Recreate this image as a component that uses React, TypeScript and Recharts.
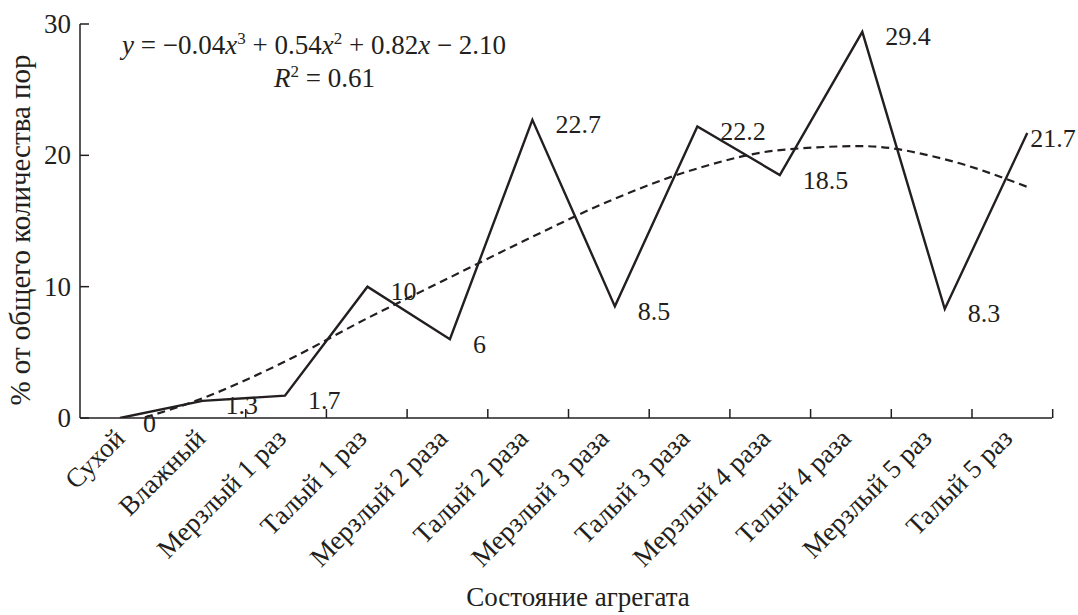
import React from 'react';
import { LineChart, Line, XAxis, YAxis, LabelList } from 'recharts';

const categories = [
  'Сухой',
  'Влажный',
  'Мерзлый 1 раз',
  'Талый 1 раз',
  'Мерзлый 2 раза',
  'Талый 2 раза',
  'Мерзлый 3 раза',
  'Талый 3 раза',
  'Мерзлый 4 раза',
  'Талый 4 раза',
  'Мерзлый 5 раз',
  'Талый 5 раз',
];
const poreShare = [0, 1.3, 1.7, 10, 6, 22.7, 8.5, 22.2, 18.5, 29.4, 8.3, 21.7];
const valueLabels = ['0', '1.3', '1.7', '10', '6', '22.7', '8.5', '22.2', '18.5', '29.4', '8.3', '21.7'];
const trendValues = [-0.5, 1.5, 4.3, 7.6, 10.7, 13.8, 16.7, 19.0, 20.4, 20.7, 19.7, 17.6];
const yTicks = [0, 10, 20, 30];

const FONT = 'Liberation Serif, Times New Roman, serif';
const INK = '#231f20';
const FS = 27;
const TICK_OFFSET = 38.7;

const data = categories.map((name, i) => ({
  idx: i,
  name,
  value: poreShare[i],
  trend: trendValues[i],
}));
const labelTicks = categories.map((_, i) => i);

const txt = { fontFamily: FONT, fontSize: FS, fill: INK };

const YTick = (props: any) => {
  const { x, y, payload } = props;
  return (
    <g>
      <line x1={x} x2={x + 9} y1={y} y2={y} stroke={INK} strokeWidth={1.5} />
      <text x={x - 9} y={y} textAnchor="end" dominantBaseline="central" style={txt}>
        {payload.value}
      </text>
    </g>
  );
};

const XLabelTick = (props: any) => {
  const { x, y, payload } = props;
  const ax = x;
  const ay = y + 22;
  const i = payload.value;
  return (
    <g>
      {i >= 1 && (
        <line x1={x + TICK_OFFSET} x2={x + TICK_OFFSET} y1={y} y2={y - 9} stroke={INK} strokeWidth={1.5} />
      )}
      <text x={ax} y={ay} transform={`rotate(-45, ${ax}, ${ay})`} textAnchor="end" style={txt}>
        {categories[i]}
      </text>
    </g>
  );
};

const ValueLabel = (props: any) => {
  const { x, y, index } = props;
  const dx = index === categories.length - 1 ? 3 : 23;
  return (
    <text x={x + dx} y={y + 5} dominantBaseline="central" style={{ ...txt, fontSize: 26 }}>
      {valueLabels[index]}
    </text>
  );
};

export default function App() {
  return (
    <div style={{ position: 'absolute', left: 0, top: 0, width: 1078, height: 615, background: '#fff' }}>
      <LineChart width={1078} height={615} data={data} margin={{ top: 24, right: 26, bottom: 0, left: 0 }}>
        <XAxis
          xAxisId="lab"
          dataKey="idx"
          type="number"
          domain={[-0.574, 11.471]}
          ticks={labelTicks}
          allowDataOverflow
          height={197}
          tickSize={0}
          tickMargin={0}
          tickLine={false}
          axisLine={{ stroke: INK, strokeWidth: 1.5 }}
          tick={<XLabelTick />}
          interval={0}
        />
        <XAxis xAxisId="pts" dataKey="idx" type="number" domain={[-0.485, 11.3]} allowDataOverflow hide />
        <YAxis
          type="number"
          domain={[0, 30]}
          ticks={yTicks}
          allowDataOverflow
          width={80}
          tickSize={0}
          tickMargin={0}
          tickLine={false}
          axisLine={{ stroke: INK, strokeWidth: 1.5 }}
          tick={<YTick />}
          interval={0}
        />
        <Line
          xAxisId="pts"
          dataKey="trend"
          type="monotone"
          stroke={INK}
          strokeWidth={2.2}
          strokeDasharray="8 5"
          dot={false}
          isAnimationActive={false}
        />
        <Line
          xAxisId="pts"
          dataKey="value"
          type="linear"
          stroke={INK}
          strokeWidth={2.4}
          dot={false}
          isAnimationActive={false}
        >
          <LabelList dataKey="value" content={<ValueLabel />} />
        </Line>
      </LineChart>
      <svg width={1078} height={615} style={{ position: 'absolute', left: 0, top: 0, pointerEvents: 'none' }}>
        <text x={122} y={54} style={txt}>
          <tspan fontStyle="italic">y</tspan>
          <tspan> = −0.04</tspan>
          <tspan fontStyle="italic">x</tspan>
          <tspan dy={-10} style={{ fontSize: 17 }}>3</tspan>
          <tspan dy={10}> + 0.54</tspan>
          <tspan fontStyle="italic">x</tspan>
          <tspan dy={-10} style={{ fontSize: 17 }}>2</tspan>
          <tspan dy={10}> + 0.82</tspan>
          <tspan fontStyle="italic">x</tspan>
          <tspan> − 2.10</tspan>
        </text>
        <text x={274} y={87} style={txt}>
          <tspan fontStyle="italic">R</tspan>
          <tspan dy={-10} style={{ fontSize: 17 }}>2</tspan>
          <tspan dy={10}> = 0.61</tspan>
        </text>
        <text
          x={20}
          y={230}
          transform="rotate(-90, 20, 230)"
          textAnchor="middle"
          dominantBaseline="central"
          style={{ ...txt, fontSize: 29 }}
        >
          % от общего количества пор
        </text>
        <text x={578} y={606} textAnchor="middle" style={txt}>
          Состояние агрегата
        </text>
      </svg>
    </div>
  );
}
